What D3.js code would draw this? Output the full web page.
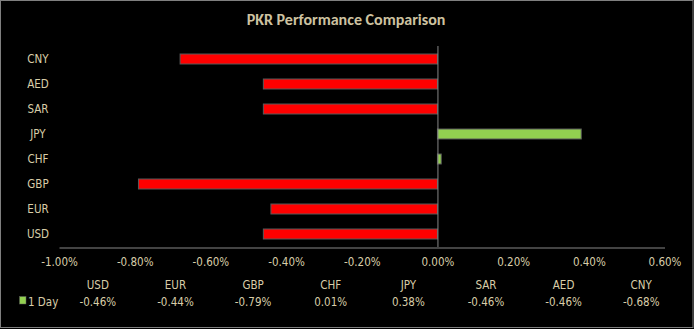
<!DOCTYPE html>
<html><head><meta charset="utf-8">
<script src="https://cdn.jsdelivr.net/npm/d3@7"></script>
<style>
html,body{margin:0;padding:0;background:#000;}
svg{display:block;}
text{font-family:"Liberation Sans Narrow","DejaVu Sans Condensed",Arial,sans-serif;}
</style></head><body>
<svg id="c" width="694" height="329"></svg>
<script>
const categories = ["USD","EUR","GBP","CHF","JPY","SAR","AED","CNY"];
const values = [-0.46,-0.44,-0.79,0.01,0.38,-0.46,-0.46,-0.68];
const tickValues = [-1.0,-0.8,-0.6,-0.4,-0.2,0,0.2,0.4,0.6];
const seriesName = "1 Day";
const title = "PKR Performance Comparison";

const svg = d3.select("#c");
const W = 694, H = 329;
const txt = "#d8cda8";
const loc = d3.formatLocale({decimal:".",thousands:",",grouping:[3],currency:["",""],minus:"-"});
const pct = d => loc.format(".2f")(d) + "%";

svg.append("rect").attr("x",0.5).attr("y",0.5).attr("width",W-1.5).attr("height",H-2)
  .attr("fill","#000").attr("stroke","#7f7f7f").attr("stroke-width",1);

svg.append("text").attr("x",346).attr("y",25).attr("text-anchor","middle")
  .attr("fill","#cdc2a0").attr("font-size",16).attr("font-weight","bold")
  .style("font-family","Carlito,'Open Sans','Liberation Sans',sans-serif")
  .text(title);

const x = d3.scaleLinear().domain([-1.0,0.6]).range([59,664.5]);
const y = d3.scaleBand().domain(categories.slice().reverse()).range([46.5,246.5]).paddingInner(0.6).paddingOuter(0.3);

// bars
svg.append("g").selectAll("rect").data(categories).join("rect")
  .attr("x",(d,i)=>x(Math.min(0,values[i])))
  .attr("width",(d,i)=>Math.abs(x(values[i])-x(0)))
  .attr("y",d=>y(d))
  .attr("height",y.bandwidth())
  .attr("fill",(d,i)=>values[i]<0?"#ff0000":"#92d050")
  .attr("stroke","#595959").attr("stroke-width",1);

// category axis line at zero
svg.append("line").attr("x1",x(0)+0.5).attr("x2",x(0)+0.5).attr("y1",46).attr("y2",247)
  .attr("stroke","#868686").attr("stroke-width",1);

// category labels
svg.append("g").selectAll("text").data(categories).join("text")
  .attr("x",38).attr("y",d=>y(d)+y.bandwidth()/2+4).attr("text-anchor","middle")
  .attr("fill",txt).attr("font-size",11.5).text(d=>d);

// value axis
const xAxis = svg.append("g").attr("transform","translate(0,247.5)")
  .call(d3.axisBottom(x).tickValues(tickValues).tickSize(0).tickPadding(10).tickFormat(pct));
xAxis.select(".domain").attr("stroke","#868686");
xAxis.selectAll("text").attr("fill",txt).attr("font-size",11.5)
  .style("font-family","'Liberation Sans Narrow','DejaVu Sans Condensed',sans-serif");

// data table
const tx = d3.scaleBand().domain(categories).range([59,680]);
svg.append("g").selectAll("text").data(categories).join("text")
  .attr("x",d=>tx(d)+tx.bandwidth()/2).attr("y",289).attr("text-anchor","middle")
  .attr("fill",txt).attr("font-size",11.5).text(d=>d);
svg.append("g").selectAll("text").data(categories).join("text")
  .attr("x",d=>tx(d)+tx.bandwidth()/2).attr("y",306).attr("text-anchor","middle")
  .attr("fill",txt).attr("font-size",11.5).text((d,i)=>pct(values[i]));

// legend
svg.append("rect").attr("x",19.5).attr("y",296.5).attr("width",6.5).attr("height",7.5)
  .attr("fill","#92d050").attr("stroke","#595959").attr("stroke-width",0.5);
svg.append("text").attr("x",28).attr("y",306).attr("fill",txt).attr("font-size",11.5).text(seriesName);
</script>
</body></html>
